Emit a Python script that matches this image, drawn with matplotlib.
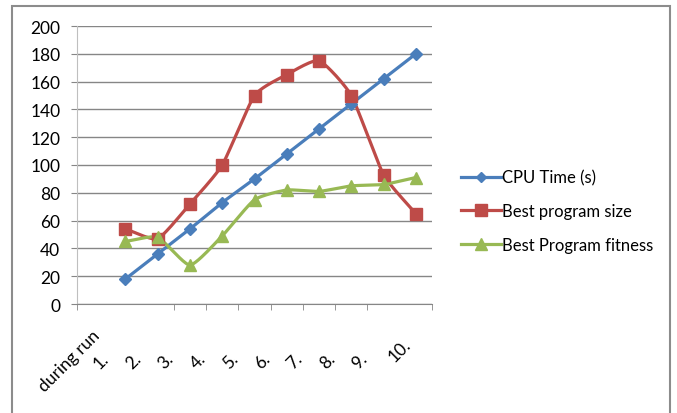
import numpy as np
import matplotlib.pyplot as plt
import matplotlib.patches as patches
from matplotlib.transforms import ScaledTranslation

plt.rcParams['font.family'] = ['Lato', 'DejaVu Sans']

categories = ['during run', '1.', '2.', '3.', '4.', '5.', '6.', '7.', '8.', '9.', '10.']
cpu_time = [None, 18, 36, 54, 73, 90, 108, 126, 144, 162, 180]
prog_size = [None, 54, 47, 72, 100, 150, 165, 175, 150, 93, 65]
prog_fitness = [None, 45, 48, 28, 49, 75, 82, 81, 85, 86, 91]

series = {
    'CPU Time (s)': (cpu_time, '#4A7EBB', 'D', 6),
    'Best program size': (prog_size, '#BE4B48', 's', 9),
    'Best Program fitness': (prog_fitness, '#98B954', '^', 9),
}

# category boundaries that show a tick mark in the original
shown_ticks = [-0.5, 2.5, 3.5, 4.5, 5.5, 6.5, 7.5, 8.5, 10.5]


def smooth(xs, ys, n=24, c=0.55):
    # cardinal curve through the points (Excel style smoothed line)
    xs = np.asarray(xs, float)
    ys = np.asarray(ys, float)
    t = np.linspace(0, 1, n)
    h00 = 2 * t ** 3 - 3 * t ** 2 + 1
    h10 = t ** 3 - 2 * t ** 2 + t
    h01 = -2 * t ** 3 + 3 * t ** 2
    h11 = t ** 3 - t ** 2
    outx, outy = [], []
    for p, out in ((xs, outx), (ys, outy)):
        m = np.zeros_like(p)
        m[1:-1] = c * (p[2:] - p[:-2]) / 2
        m[0] = c * (p[1] - p[0])
        m[-1] = c * (p[-1] - p[-2])
        for i in range(len(p) - 1):
            out.extend(h00 * p[i] + h10 * m[i] + h01 * p[i + 1] + h11 * m[i + 1])
    return outx, outy


fig = plt.figure(figsize=(6.77, 4.14), dpi=100)
ax = fig.add_axes([77 / 677, 1 - 305 / 414, 355 / 677, 278 / 414])

x_all = np.arange(len(categories))
for name, (vals, color, marker, ms) in series.items():
    xs = [x for x, v in zip(x_all, vals) if v is not None]
    ys = [v for v in vals if v is not None]
    sx, sy = smooth(xs, ys)
    ax.plot(sx, sy, color=color, lw=2.3, zorder=3)
    ax.plot(xs, ys, linestyle='none', marker=marker, ms=ms, color=color, zorder=4)
    # legend proxy
    ax.plot([], [], color=color, lw=2.3, marker=marker, ms=ms * 0.9, label=name)

ax.set_xlim(-0.5, len(categories) - 0.5)
ax.set_ylim(0, 200)
ax.set_yticks(range(0, 201, 20))
ax.grid(axis='y', color='#868686', lw=1)
ax.set_axisbelow(True)

ax.set_xticks(x_all)
ax.set_xticklabels(categories, rotation=45, ha='center', va='center', rotation_mode='anchor')
ax.set_xticks(shown_ticks, minor=True)
ax.tick_params(axis='x', which='major', length=0, pad=0, labelsize=12.5)
ax.tick_params(axis='x', which='minor', length=4, color='#868686')
ax.tick_params(axis='y', length=4, color='#868686', pad=8, labelsize=12.5)

# rotated labels sit below and left of their category, like Excel does
for lab in ax.get_xticklabels():
    dx, dy = (-16, -46) if lab.get_text() == '10.' else (-24, -56)
    lab.set_transform(lab.get_transform() + ScaledTranslation(dx / 100, dy / 100, fig.dpi_scale_trans))

for s in ['top', 'right']:
    ax.spines[s].set_visible(False)
ax.spines['left'].set_color('#BFBFBF')
ax.spines['bottom'].set_color('#868686')

fig.legend(loc='center left', bbox_to_anchor=(446 / 677, 1 - 212 / 414), frameon=False,
           fontsize=12, handlelength=2.4, handletextpad=0.05, labelspacing=1.05, numpoints=1)

# outer chart border
fig.patches.append(patches.Rectangle((12 / 677, -0.1), 658 / 677, 1.1 - 7 / 414,
                                     transform=fig.transFigure, fill=False,
                                     edgecolor='#8C8C8C', lw=1.5))

plt.savefig('out.png', dpi=100)
